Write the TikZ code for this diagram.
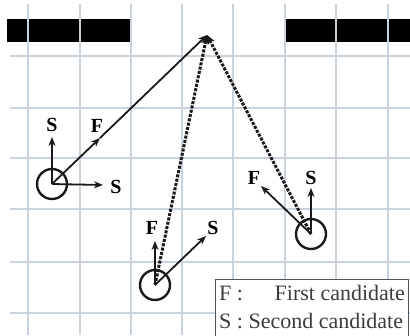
\documentclass[tikz,border=0pt]{standalone}
\usepackage{fontspec}
\setmainfont{Liberation Serif}
\usetikzlibrary{arrows.meta}
\definecolor{gridc}{HTML}{C9D3DE}
\definecolor{ink}{HTML}{1A1A1A}
\definecolor{boxc}{HTML}{555555}
\begin{document}
\begin{tikzpicture}[x=1pt,y=-1pt,
  gridline/.style={draw=gridc, line width=2.6pt},
  barfill/.style={fill=black},
  body/.style={circle, draw=ink, line width=2.4pt, minimum size=30pt, inner sep=0pt},
  arr/.style={draw=ink, line width=1.8pt, -{Stealth[length=9pt,width=7pt]}},
  dashline/.style={draw=ink, line width=3pt, dash pattern=on 3pt off 1.4pt, -{Stealth[length=9pt,width=8pt]}},
  lab/.style={font=\fontsize{20}{20}\selectfont\bfseries, inner sep=0pt},
  legtxt/.style={font=\fontsize{22}{22}\selectfont, text=ink!85, inner sep=0pt},
  legbox/.style={draw=boxc, fill=white, line width=1pt, anchor=north west, minimum width=193pt, minimum height=62pt, inner sep=0pt}
]
\useasboundingbox (0,0) rectangle (410,335);
% black bars
\fill[barfill] (7,19) rectangle (130,42);
\fill[barfill] (286,19) rectangle (410,42);
% grid
\foreach \x in {28,80,131,182,233,285,336,388} \draw[gridline] (\x,4) -- (\x,335);
\foreach \y in {56,108,158,209,262,313} \draw[gridline] (10,\y) -- (410,\y);
% apex
\coordinate (apex) at (207,35);
% bodies
\node[body] (c1) at (52,184) {};
\node[body] (c2) at (155,285) {};
\node[body] (c3) at (311,234) {};
% arrow tips
\coordinate (s1a) at (52,137);
\coordinate (s1b) at (103,185);
\coordinate (f1) at (100,138);
\coordinate (f2) at (155,241);
\coordinate (s2) at (206,236);
\coordinate (f3) at (261,186);
\coordinate (s3) at (311,188);
% lines to apex
\draw[arr] (c1.center) -- (f1);
\draw[arr] (f1) -- (apex);
\draw[dashline] (c2.center) -- (apex);
\draw[dashline] (c3.center) -- (apex);
% candidate arrows
\draw[arr] (c1.center) -- (s1a);
\draw[arr] (c1.center) -- (s1b);
\draw[arr] (c2.center) -- (f2);
\draw[arr] (c2.center) -- (s2);
\draw[arr] (c3.center) -- (f3);
\draw[arr] (c3.center) -- (s3);
% labels
\node[lab] (ls1a) at (52,125) {S};
\node[lab] (lf1) at (97,126) {F};
\node[lab] (ls1b) at (116,187) {S};
\node[lab] (lf2) at (152,228) {F};
\node[lab] (ls2) at (213,228) {S};
\node[lab] (lf3) at (254,178) {F};
\node[lab] (ls3) at (311,178) {S};
% legend
\node[legbox] (leg) at (215,279) {};
\node[legtxt, anchor=base west] (l1a) at (219,300) {F :};
\node[legtxt, anchor=base east] (l1b) at (405,300) {First candidate};
\node[legtxt, anchor=base west] (l2) at (219,328) {S : Second candidate};
\end{tikzpicture}
\end{document}
